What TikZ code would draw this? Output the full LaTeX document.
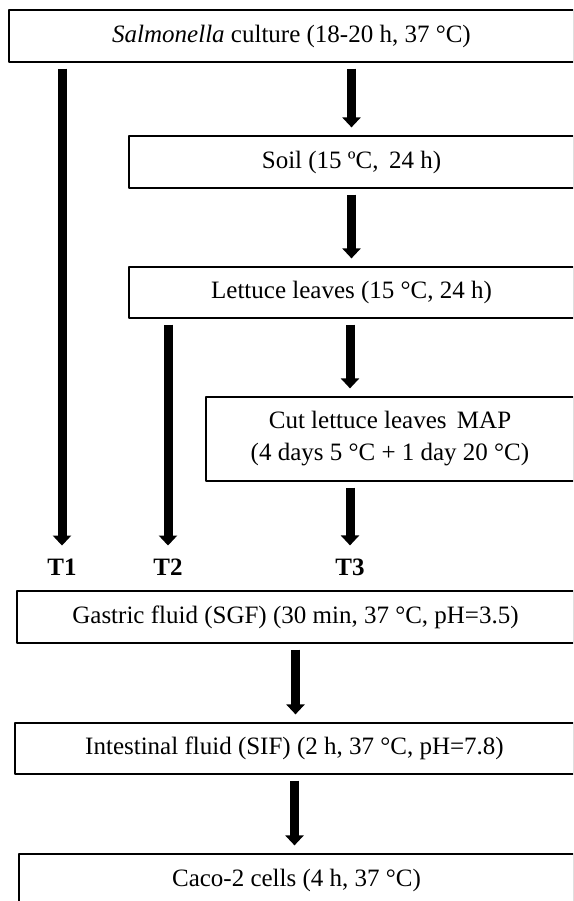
\documentclass[tikz,border=0pt]{standalone}
\usepackage{fontspec}
\setmainfont{Liberation Serif}
\usetikzlibrary{arrows.meta,calc}

\begin{document}
\begin{tikzpicture}[x=1pt, y=-1pt, font=\fontsize{25}{32}\selectfont, line join=round,
	box/.style={draw, line width=1.2pt, inner sep=0pt, minimum height=52pt, align=center},
	flow/.style={line width=9pt, -{Triangle[width=18pt,length=10pt]}, shorten <=6pt, shorten >=8pt},
	lab/.style={font=\fontsize{25}{32}\selectfont\bfseries, inner sep=5pt}]
			\useasboundingbox (0,0) rectangle (573,901);
			\clip (0,0) rectangle (573,901);
			% boxes
			\node[box, minimum width=565pt] (culture) at (291.5,36) {\textit{Salmonella} culture (18-20 h, 37 °C)};
			\node[box, minimum width=445pt] (soil) at (351.5,162) {Soil (15 ºC,\, 24 h)};
			\node[box, minimum width=445pt, minimum height=51pt] (lettuce) at (351.5,292.5) {Lettuce leaves (15 °C, 24 h)};
			\node[box, minimum width=368pt, minimum height=84pt] (cut) at (390,439) {Cut lettuce leaves\, MAP\\(4 days 5 °C + 1 day 20 °C)};
			\node[box, minimum width=557pt] (gastric) at (295.5,617) {Gastric fluid (SGF) (30 min, 37 °C, pH=3.5)};
			\node[box, minimum width=559pt, minimum height=51pt] (intestinal) at (294.5,748.5) {Intestinal fluid (SIF) (2 h, 37 °C, pH=7.8)};
			\node[box, minimum width=555pt] (caco) at (296.5,880) {Caco-2 cells (4 h, 37 °C)};
			% treatment labels
			\foreach \x/\t in {62/T1,168/T2,350/T3}
			\node[lab] (\t) at (\x,567) {\t};
			% arrows
			\draw[flow] (culture.south -| soil.north) -- (soil.north);
			\draw[flow] (soil.south) -- (lettuce.north);
			\draw[flow] (lettuce.south -| T3) -- (cut.north -| T3);
			\draw[flow] (cut.south -| T3) -- (T3.north);
			\draw[flow] (culture.south -| T1) -- (T1.north);
			\draw[flow] (lettuce.south -| T2) -- (T2.north);
			\draw[flow] (gastric.south) -- (gastric.south |- intestinal.north);
			\draw[flow] (intestinal.south) -- (intestinal.south |- caco.north);
		\end{tikzpicture}
\end{document}
